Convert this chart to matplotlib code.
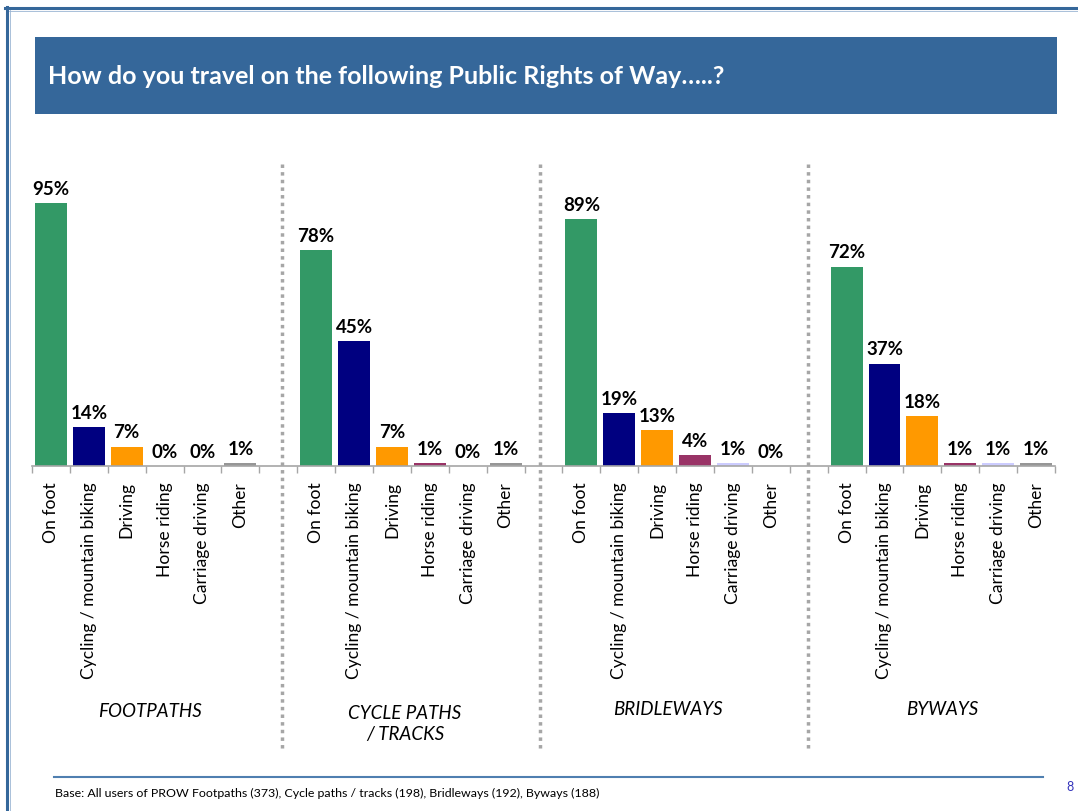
import matplotlib
matplotlib.use('Agg')
import matplotlib.pyplot as plt
from matplotlib.lines import Line2D
from matplotlib.patches import Rectangle

plt.rcParams['font.family'] = ['Lato', 'DejaVu Sans']

# data
modes = ['On foot', 'Cycling / mountain biking', 'Driving', 'Horse riding',
         'Carriage driving', 'Other']
groups = ['FOOTPATHS', 'CYCLE PATHS\n/ TRACKS', 'BRIDLEWAYS', 'BYWAYS']
footpaths = [95, 14, 7, 0, 0, 1]
cycle_paths = [78, 45, 7, 1, 0, 1]
bridleways = [89, 19, 13, 4, 1, 0]
byways = [72, 37, 18, 1, 1, 1]
values = [footpaths, cycle_paths, bridleways, byways]

colors = ['#339966', '#000080', '#FF9900', '#993366', '#CCCCFF', '#969696']

W, H = 1078, 812
fig = plt.figure(figsize=(W / 100, H / 100), dpi=100)

def fx(px):
    return px / W

def fy(py):
    return 1 - py / H

# frame lines top / left
fig.add_artist(Line2D([fx(5), fx(1078)], [fy(8.5), fy(8.5)], color='#35679A', lw=2.2))
fig.add_artist(Line2D([fx(6.5), fx(6.5)], [fy(8), fy(812)], color='#35679A', lw=2.2))
fig.add_artist(Line2D([fx(9), fx(1078)], [fy(11.5), fy(11.5)], color='#9bb5d3', lw=0.6))
fig.add_artist(Line2D([fx(9.5), fx(9.5)], [fy(11), fy(812)], color='#9bb5d3', lw=0.6))

# title bar
fig.add_artist(Rectangle((fx(35), fy(115)), fx(1057) - fx(35), fy(38) - fy(115),
                         facecolor='#35679A', edgecolor='none'))
fig.text(fx(48), fy(77), 'How do you travel on the following Public Rights of Way…..?',
         color='white', fontsize=18, fontweight='bold', va='center', ha='left')

# chart axes
ax = fig.add_axes([fx(32), fy(467), fx(1055) - fx(32), fy(190) - fy(467)])
ax.set_xlim(-0.5, 26.5)
ax.set_ylim(0, 100)

centers = []
labels = []
for g, vals in enumerate(values):
    for i, v in enumerate(vals):
        x = g * 7 + i
        centers.append(x)
        labels.append(modes[i])
        ax.bar(x, v, width=0.84, color=colors[i])
        ax.annotate('%d%%' % v, (x, v), xytext=(0, 4.5), textcoords='offset points',
                    ha='center', va='bottom', fontsize=13.5, fontweight='bold')

ax.set_xticks(centers)
ax.set_xticklabels(labels, rotation=90, fontsize=12.6)
ax.tick_params(axis='x', which='major', length=0, pad=11)
minor = []
for g in range(4):
    minor += [g * 7 + i - 0.5 for i in range(7)]
ax.set_xticks(minor, minor=True)
ax.tick_params(axis='x', which='minor', length=5, color='#a6a6a6', width=1)
ax.set_yticks([])
for s in ['top', 'right', 'left']:
    ax.spines[s].set_visible(False)
ax.spines['bottom'].set_color('#a6a6a6')
ax.spines['bottom'].set_linewidth(1.2)

# dotted separators
for px in [282, 540, 808]:
    fig.add_artist(Line2D([fx(px), fx(px)], [fy(165), fy(750)], color='#a6a6a6',
                          lw=2.5, linestyle=(0, (1, 1.2))))

# group labels
for gx, gy, name in [(150, 712, groups[0]), (405, 724, groups[1]),
                     (668, 710, groups[2]), (942, 710, groups[3])]:
    fig.text(fx(gx), fy(gy), name, ha='center', va='center', fontsize=13.5,
             style='italic', linespacing=1.3)

# footer
fig.add_artist(Line2D([fx(54), fx(1043)], [fy(778), fy(778)], color='#4f7fb0', lw=1.5))
fig.text(fx(55), fy(793), 'Base: All users of PROW Footpaths (373), Cycle paths / tracks (198), '
         'Bridleways (192), Byways (188)', fontsize=8.9, va='center', ha='left')
fig.text(fx(1070), fy(787), '8', fontsize=9, color='#3333bb', va='center', ha='center')

plt.savefig('out.png', dpi=100)
